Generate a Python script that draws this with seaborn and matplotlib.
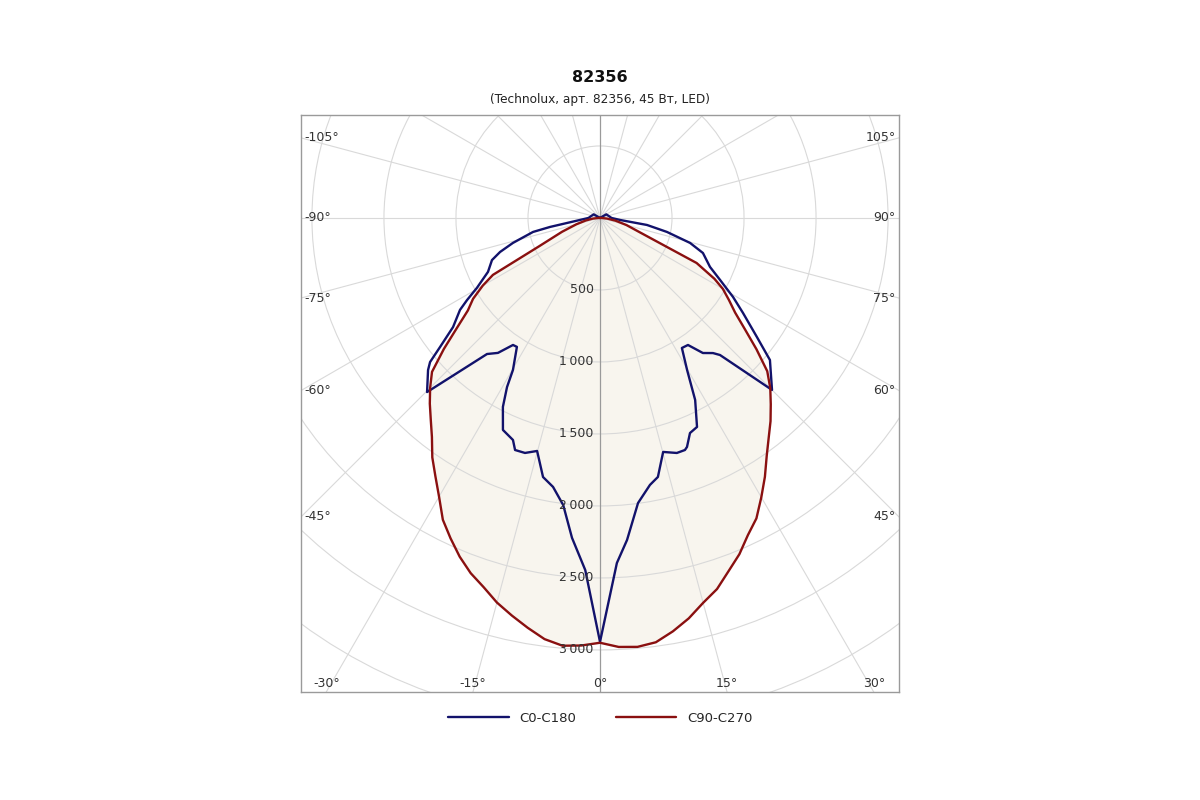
import numpy as np
import pandas as pd
import matplotlib.pyplot as plt
import seaborn as sns
from matplotlib.patches import Circle


# ==========================================
# DATA (luminous intensity, cd; 0 deg = nadir)
# ==========================================

c0_angles = [-180, -120, -105, -90, -84.3, -79.8, -78.2, -74, -71.2, -68.7, -64.3,
             -60.4, -58.3, -56.7, -53.4, -51.1, -49.7, -48.5, -44.8,
             -39.7, -37.1, -34.4, -32.8, -29.8, -28.8, -27.2, -24.6, -21.4,
             -20.1, -17.7, -15.1, -12.4, -9.9, -7.3, -5.0, -2.4, 0,
             2.1, 2.8, 4.8, 7.6, 10.6, 12.6, 15.1, 18.1, 20.1, 20.8, 22.7,
             24.9, 27.6, 29.8, 32.2, 34.7, 37.3, 39.9, 41.2,
             45, 50.1, 52.8, 56.4, 59.3, 62.7, 66, 71.2, 74.5, 78.2, 81.5,
             84.3, 90, 105, 120, 180]
c0_cd = [0, 50, 60, 80, 140, 353, 475, 629, 733, 805, 863,
         983, 1085, 1163, 1271, 1427, 1547, 1594, 1704,
         1228, 1175, 1069, 1065, 1216, 1340, 1475, 1619, 1656,
         1716, 1713, 1676, 1842, 1896, 2010, 2230, 2447, 2944,
         2515, 2399, 2244, 1997, 1886, 1843, 1683, 1717, 1716, 1701, 1619,
         1600, 1426, 1217, 1067, 1073, 1179, 1223, 1265,
         1689, 1538, 1368, 1192, 1074, 938, 836, 755, 649, 475, 330,
         140, 80, 60, 50, 0]

c90_angles = [-180, -90, -85, -80, -75, -70, -65, -62, -60, -57.5, -55, -52.5,
              -50, -47.5, -45, -42.5, -40, -37.5, -35, -32.5, -30, -27.5, -25,
              -22.5, -20, -17.5, -15, -12.5, -10, -7.5, -5, -2.5, 0,
              2.5, 5, 7.5, 10, 12.5, 15, 17.5, 20, 22.5, 25, 27.5, 30, 32.5,
              35, 37.5, 40, 42.5, 45, 47.5, 50, 52.5, 55, 57.5, 60, 62, 65,
              70, 75, 80, 85, 90, 180]
c90_cd = [0, 10, 50, 100, 170, 280, 470, 842, 940, 1045, 1120, 1250,
          1415, 1582, 1668, 1749, 1828, 1917, 2030, 2127, 2235, 2363, 2455,
          2546, 2625, 2688, 2765, 2828, 2890, 2950, 2982, 2972, 2950,
          2982, 2990, 2972, 2915, 2848, 2767, 2702, 2610, 2528, 2430, 2352,
          2240, 2131, 2018, 1924, 1842, 1755, 1672, 1575, 1418, 1267, 1145,
          1062, 985, 900, 740, 300, 190, 110, 50, 10, 0]

ring_values = [500, 1000, 1500, 2000, 2500, 3000, 3500, 4000, 4500]
ring_labels = ["500", "1\u2009000", "1\u2009500", "2\u2009000", "2\u2009500", "3\u2009000"]
spoke_angles = list(range(0, 360, 15))
side_ticks = [-105, -90, -75, -60, -45, 45, 60, 75, 90, 105]
bottom_ticks = [-30, -15, 0, 15, 30]

title = "82356"
subtitle = "(Technolux, арт. 82356, 45 Вт, LED)"
series_names = ["C0-C180", "C90-C270"]
colors = ["#12126b", "#8a1010"]


def to_xy(angles, cd):
    a = np.radians(np.array(angles, dtype=float))
    r = np.array(cd, dtype=float)
    return r * np.sin(a), -r * np.cos(a)


frames = []
for name, angles, cd in [(series_names[0], c0_angles, c0_cd),
                         (series_names[1], c90_angles, c90_cd)]:
    x, y = to_xy(angles, cd)
    frames.append(pd.DataFrame({"x": x, "y": y, "plane": name}))
df = pd.concat(frames, ignore_index=True)


# ==========================================
# PLOT
# ==========================================

sns.set_style("white")
plt.rcParams["font.family"] = ["DejaVu Sans"]

fig = plt.figure(figsize=(12, 8), dpi=100)
ax = fig.add_axes([301 / 1200, 1 - 692 / 800, 598 / 1200, 577 / 800])

X_HALF = 2076
Y_TOP = 715
Y_BOT = -3292
ax.set_xlim(-X_HALF, X_HALF)
ax.set_ylim(Y_BOT, Y_TOP)

# filled area of C90-C270
red = df[df["plane"] == series_names[1]]
ax.fill(red["x"], red["y"], color="#f8f5ee", zorder=0.5, lw=0)

# grid rings and spokes
for rv in ring_values:
    ax.add_patch(Circle((0, 0), rv, fill=False, ec="#d9d9d9", lw=0.8, zorder=1))
for sa in spoke_angles:
    if sa in (0, 180):
        continue
    sx, sy = to_xy([sa], [6000])
    ax.plot([0, sx[0]], [0, sy[0]], color="#d9d9d9", lw=0.8, zorder=1)
ax.axvline(0, color="#9a9a9a", lw=0.9, zorder=1.2)

sns.lineplot(
    data=df,
    x="x",
    y="y",
    hue="plane",
    palette=colors,
    sort=False,
    estimator=None,
    units="plane",
    lw=1.7,
    ax=ax,
    zorder=3,
    legend=True,
)

# ring labels
for rv, lab in zip(ring_values, ring_labels):
    ax.text(-45, -rv, lab, ha="right", va="center", fontsize=9, color="#333333", zorder=4)

# angle labels on the sides
for t in side_ticks:
    a = np.radians(abs(t))
    yy = -X_HALF * np.cos(a) / np.sin(a)
    if t < 0:
        ax.text(-X_HALF + 22, yy, f"{t}°", ha="left", va="center", fontsize=9, color="#333333")
    else:
        ax.text(X_HALF - 22, yy, f"{t}°", ha="right", va="center", fontsize=9, color="#333333")

# angle labels along the bottom
for t in bottom_ticks:
    xx = -Y_BOT * np.tan(np.radians(t))
    ax.text(xx, Y_BOT + 58, f"{t}°", ha="center", va="center", fontsize=9, color="#333333")

ax.set_xticks([])
ax.set_yticks([])
ax.set_xlabel("")
ax.set_ylabel("")
for s in ax.spines.values():
    s.set_color("#9a9a9a")
    s.set_linewidth(1.0)

handles, labels = ax.get_legend_handles_labels()
ax.get_legend().remove()
fig.legend(handles, labels, loc="center", bbox_to_anchor=(0.5, 1 - 718 / 800),
           ncol=2, frameon=False, fontsize=9.5, handlelength=4.6,
           handletextpad=0.8, columnspacing=3.0)

fig.text(0.5, 1 - 78 / 800, title, ha="center", va="center", fontsize=11.5, fontweight="bold", color="#111111")
fig.text(0.5, 1 - 100 / 800, subtitle, ha="center", va="center", fontsize=8.7, color="#222222")

plt.savefig("out.png", dpi=100)
